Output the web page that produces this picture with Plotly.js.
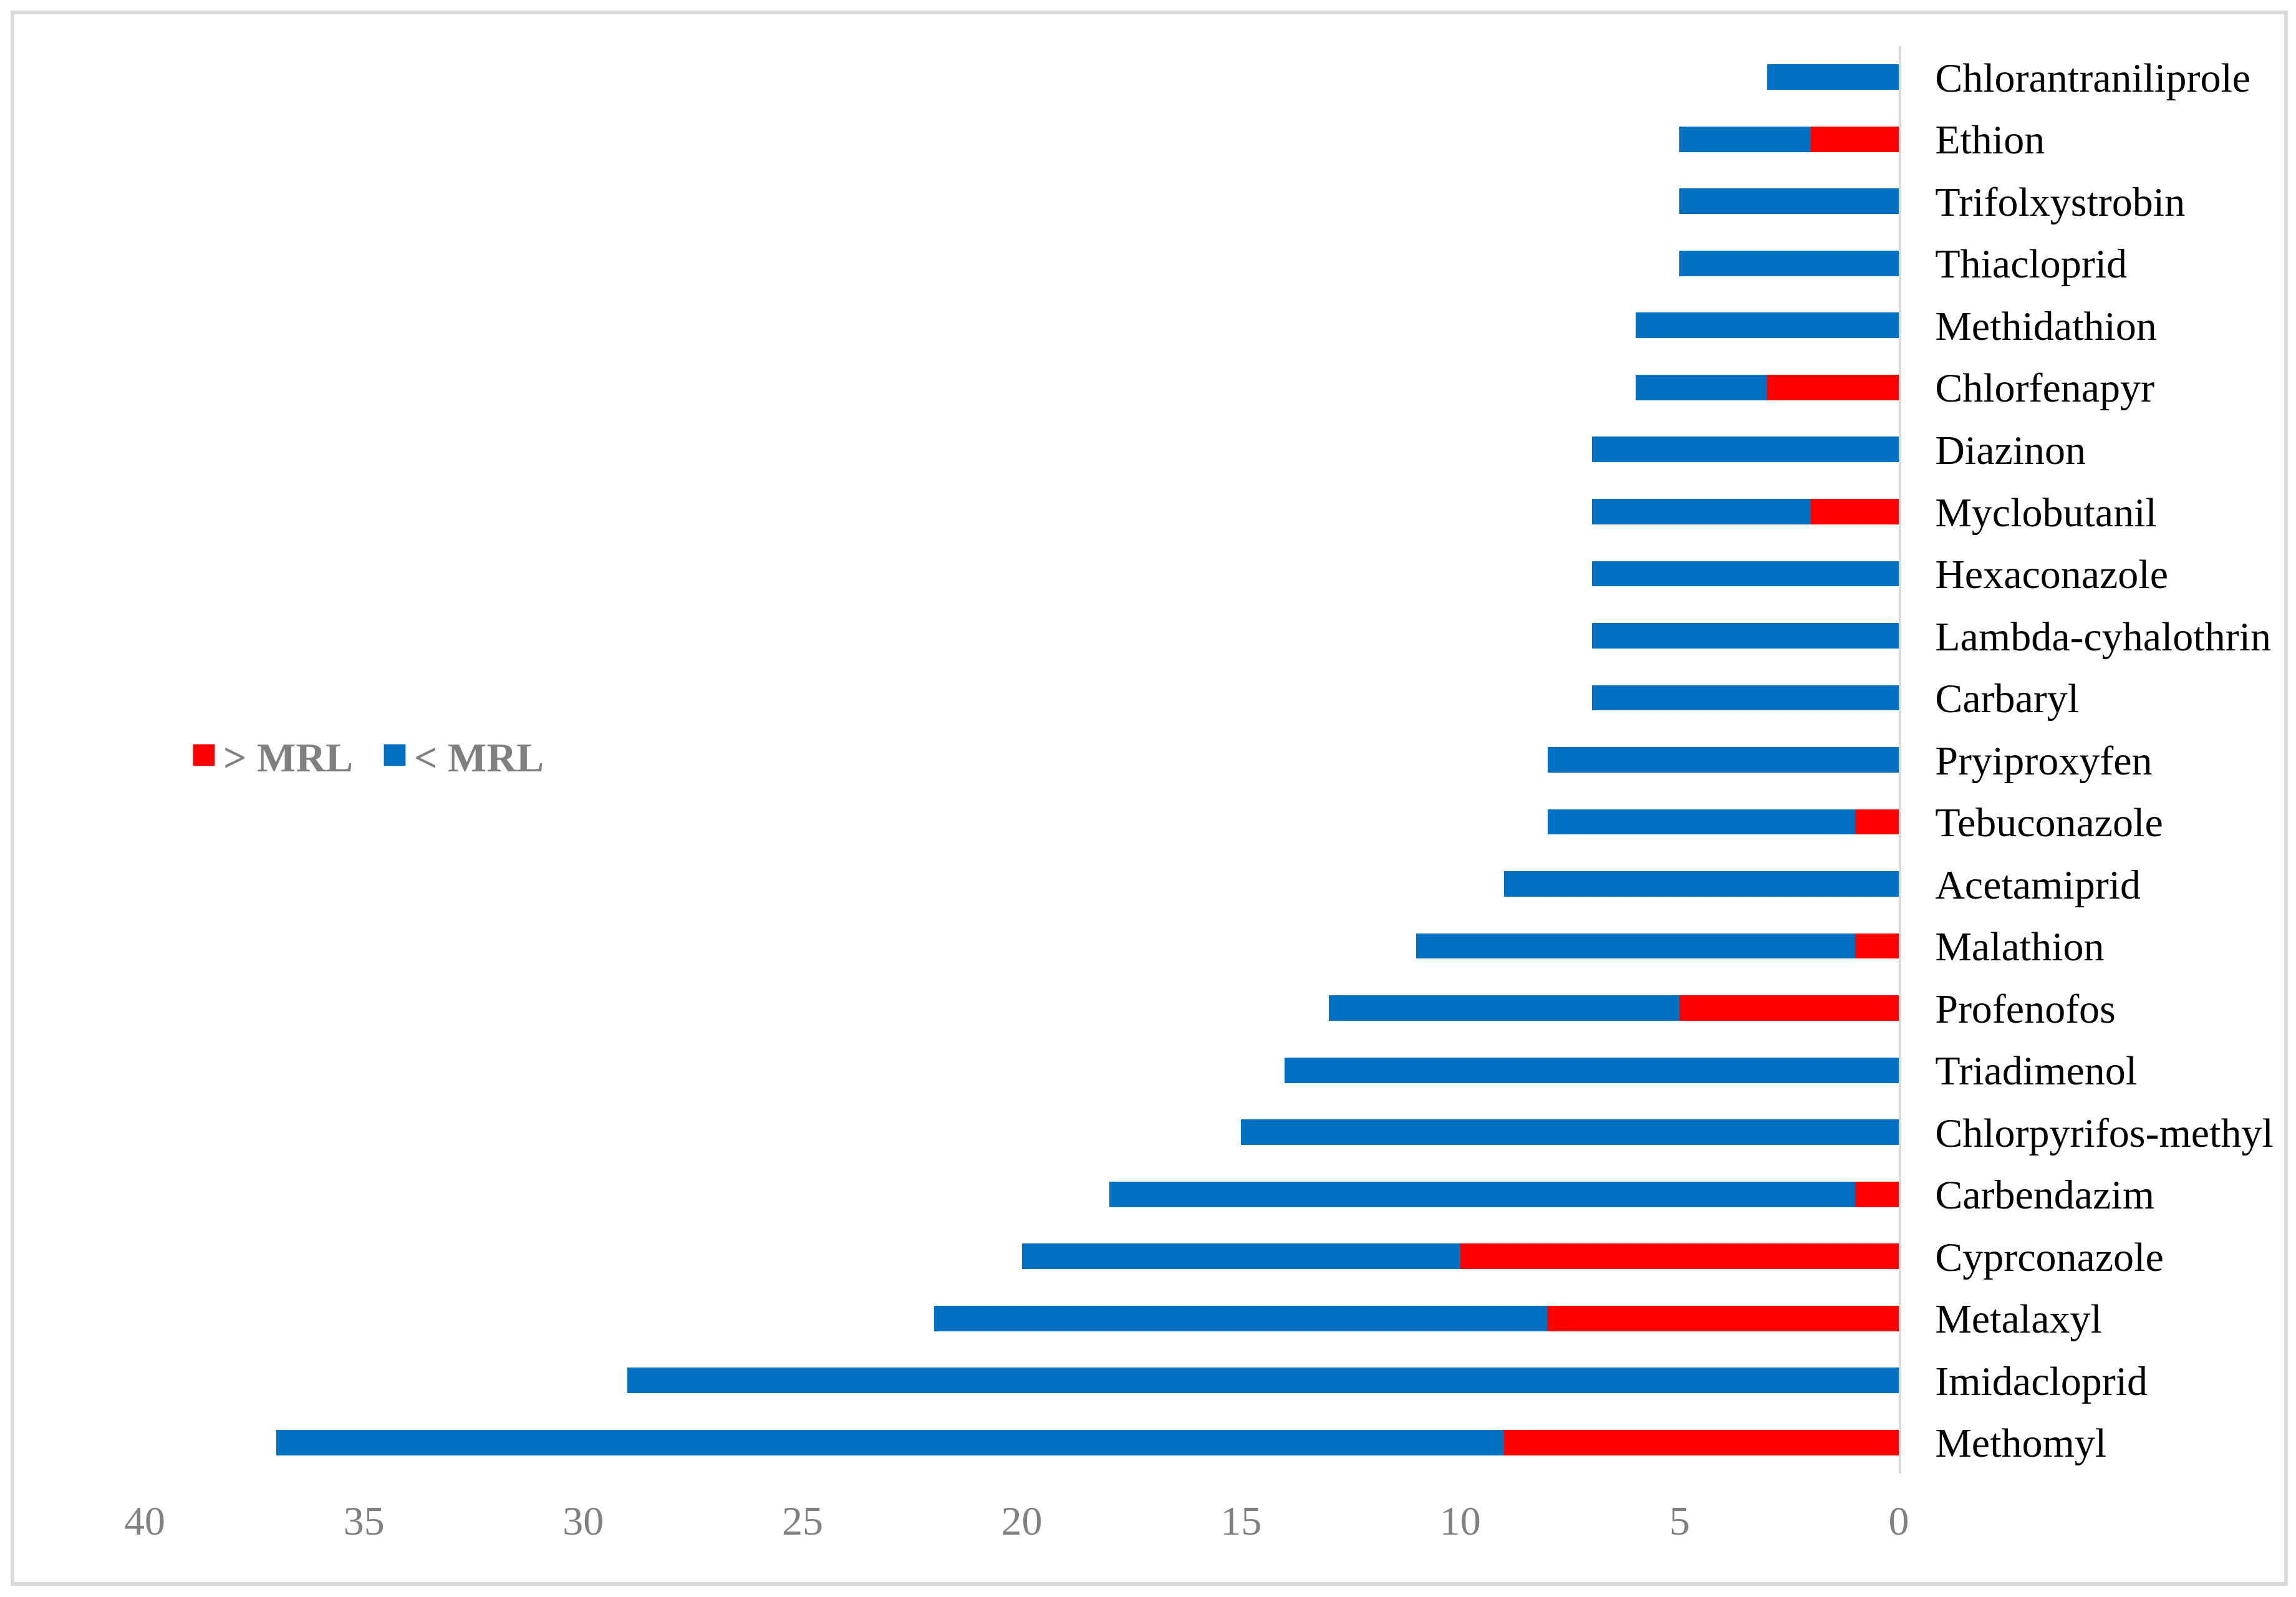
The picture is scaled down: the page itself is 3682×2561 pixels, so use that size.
<!DOCTYPE html>
<html>
<head>
<meta charset="utf-8">
<script src="https://cdn.plot.ly/plotly-3.0.1.min.js"></script>
<style>
html, body { margin: 0; padding: 0; background: #ffffff; }
#chart { width: 3682px; height: 2561px; }
#chart .legend .scrollbox { clip-path: none !important; }
#chart .legend .legendpoints path { transform: translate(9px, 0px) scale(2.9); }
</style>
</head>
<body>
<div id="chart"></div>
<script>
// Categories, top to bottom as shown in the chart
const pesticides = [
  "Chlorantraniliprole", "Ethion", "Trifolxystrobin", "Thiacloprid", "Methidathion",
  "Chlorfenapyr", "Diazinon", "Myclobutanil", "Hexaconazole", "Lambda-cyhalothrin",
  "Carbaryl", "Pryiproxyfen", "Tebuconazole", "Acetamiprid", "Malathion",
  "Profenofos", "Triadimenol", "Chlorpyrifos-methyl", "Carbendazim", "Cyprconazole",
  "Metalaxyl", "Imidacloprid", "Methomyl"
];
// Samples above MRL
const aboveMRL = [0, 2, 0, 0, 0, 3, 0, 2, 0, 0, 0, 0, 1, 0, 1, 5, 0, 0, 1, 10, 8, 0, 9];
// Samples below MRL
const belowMRL = [3, 3, 5, 5, 6, 3, 7, 5, 7, 7, 7, 8, 7, 9, 10, 8, 14, 15, 17, 10, 14, 29, 28];
// Axis ticks
const xTicks = [0, 5, 10, 15, 20, 25, 30, 35, 40];
const seriesNames = ["> MRL", "< MRL"];

const FONT = "'Times New Roman', 'Liberation Serif', serif";

const traces = [
  {
    type: "bar", orientation: "h", name: seriesNames[0],
    y: pesticides, x: aboveMRL,
    marker: { color: "#FF0000" }, width: 0.41, hoverinfo: "x+y+name"
  },
  {
    type: "bar", orientation: "h", name: seriesNames[1],
    y: pesticides, x: belowMRL,
    marker: { color: "#0070C0" }, width: 0.41, hoverinfo: "x+y+name"
  }
];

// pixel helpers for the frame (plot area: x 232..3045, y 74..2363)
const L = 232, R = 637, T = 74, B = 198, W = 3682, H = 2561;
const pw = W - L - R, ph = H - T - B;
const px = v => (v - L) / pw;
const py = v => (H - B - v) / ph;

const layout = {
  width: W, height: H,
  margin: { l: L, r: R, t: T, b: B, pad: 0, autoexpand: false },
  paper_bgcolor: "#ffffff", plot_bgcolor: "#ffffff",
  barmode: "stack",
  bargap: 0.59,
  showlegend: true,
  legend: {
    orientation: "h", traceorder: "normal",
    x: px(318), xanchor: "left",
    y: py(1211), yanchor: "middle",
    entrywidth: 261, entrywidthmode: "pixels",
    font: { family: FONT, size: 66, color: "#808080", weight: "bold" },
    bgcolor: "rgba(0,0,0,0)"
  },
  xaxis: {
    range: [40, 0], tickvals: xTicks, ticktext: xTicks.map(String),
    showgrid: false, zeroline: false, showline: false, ticks: "",
    ticklabelstandoff: 31,
    tickfont: { family: FONT, size: 66, color: "#808080" },
    fixedrange: true
  },
  yaxis: {
    type: "category", categoryorder: "array", categoryarray: pesticides,
    autorange: "reversed", side: "right",
    showgrid: false, zeroline: false,
    showline: true, linecolor: "#d9d9d9", linewidth: 4,
    ticks: "", ticklabelstandoff: 41,
    tickfont: { family: FONT, size: 66, color: "#000000" },
    fixedrange: true
  },
  shapes: [
    {
      type: "rect", xref: "paper", yref: "paper",
      x0: px(20), x1: px(3666), y0: py(2540), y1: py(20),
      line: { color: "#d9d9d9", width: 6 }, fillcolor: "rgba(0,0,0,0)", layer: "below"
    }
  ]
};

const gd = document.getElementById("chart");
Plotly.newPlot(gd, traces, layout, { displayModeBar: false, staticPlot: true });
</script>
</body>
</html>
